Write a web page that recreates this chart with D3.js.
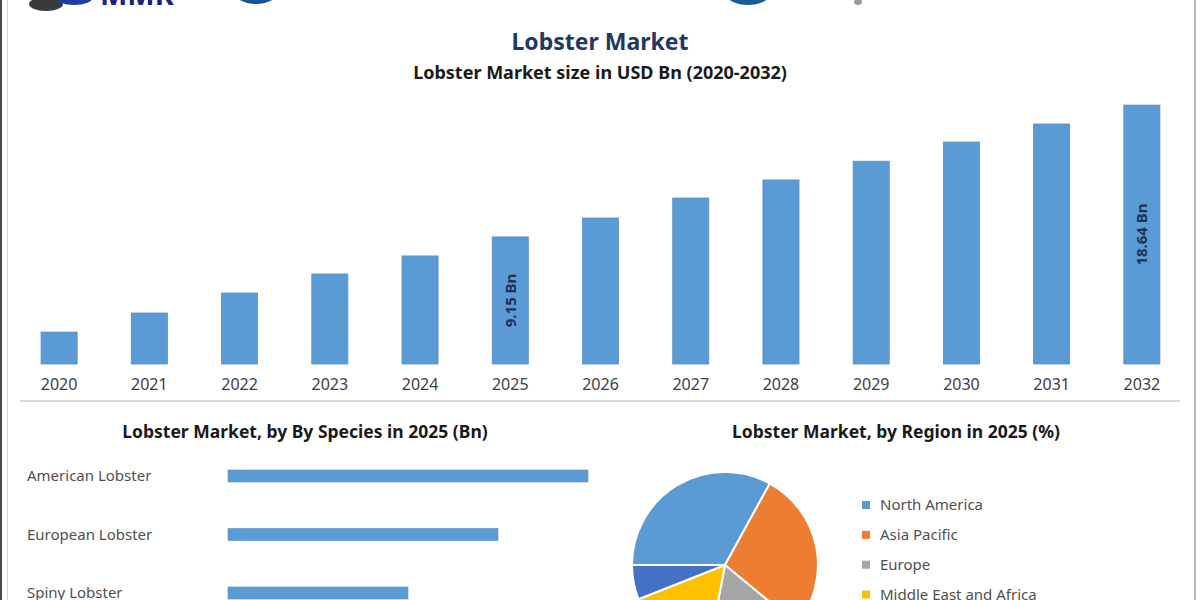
<!DOCTYPE html>
<html>
<head>
<meta charset="utf-8">
<script src="https://cdn.jsdelivr.net/npm/d3@7"></script>
<style>
  html, body { margin: 0; padding: 0; background: #ffffff; }
  svg { display: block; }
  text { font-family: "Noto Sans", "Open Sans", sans-serif; }
</style>
</head>
<body>
<svg id="chart" width="1200" height="600"></svg>
<script>
// ---------- data ----------
const years = ["2020","2021","2022","2023","2024","2025","2026","2027","2028","2029","2030","2031","2032"];
const marketSize = [2.30, 3.67, 5.11, 6.48, 7.78, 9.15, 10.51, 11.95, 13.25, 14.60, 15.98, 17.28, 18.64];
const labelledYears = ["2025", "2032"];

const species = ["American Lobster", "European Lobster", "Spiny Lobster"];
const speciesValues = [3.6, 2.7, 1.8];

const regions = ["North America", "Asia Pacific", "Europe", "Middle East and Africa", "South America"];
const regionShares = [33, 28, 17, 16, 6];
const regionColors = ["#5b9bd5", "#ed7d31", "#a5a5a5", "#ffc000", "#4472c4"];

const mainTitle = "Lobster Market";
const subTitle = "Lobster Market size in USD Bn (2020-2032)";
const speciesTitle = "Lobster Market, by By Species in 2025 (Bn)";
const regionTitle = "Lobster Market, by Region in 2025 (%)";

// ---------- drawing ----------
const svg = d3.select("#chart");

svg.append("rect").attr("width", 1200).attr("height", 600).attr("fill", "#ffffff");

// partial logos cut at top edge
const logo = svg.append("g");
logo.append("ellipse").attr("cx", 46).attr("cy", 4).attr("rx", 17).attr("ry", 7).attr("fill", "#3a3a3a");
logo.append("ellipse").attr("cx", 74).attr("cy", -3).attr("rx", 19).attr("ry", 8).attr("fill", "#1f3c9e");
logo.append("text").attr("x", 100).attr("y", 5).attr("font-family", "Liberation Serif, serif")
  .attr("font-weight", "bold").attr("font-size", 29).attr("fill", "#1a237e").text("MMR");
logo.append("ellipse").attr("cx", 256).attr("cy", -6).attr("rx", 20).attr("ry", 10).attr("fill", "#1d4f99");
logo.append("ellipse").attr("cx", 748).attr("cy", -5).attr("rx", 21).attr("ry", 10).attr("fill", "#1b5a98");
logo.append("ellipse").attr("cx", 858).attr("cy", 2).attr("rx", 4).attr("ry", 3).attr("fill", "#9a9a9a");

// frame lines
svg.append("rect").attr("x", 0).attr("y", 0).attr("width", 2).attr("height", 600).attr("fill", "#4a4a4a");
svg.append("line").attr("x1", 7.5).attr("x2", 7.5).attr("y1", 0).attr("y2", 600).attr("stroke", "#d4d4d4").attr("stroke-width", 1);
svg.append("line").attr("x1", 1195).attr("x2", 1195).attr("y1", 0).attr("y2", 600).attr("stroke", "#a9bdb6").attr("stroke-width", 2);

// titles
svg.append("text").attr("x", 600).attr("y", 50).attr("text-anchor", "middle")
  .attr("font-size", 23).attr("font-weight", "bold").attr("fill", "#1f3864").text(mainTitle);
svg.append("text").attr("x", 600).attr("y", 79).attr("text-anchor", "middle")
  .attr("font-size", 18).attr("font-weight", "bold").attr("fill", "#1a1a1a").text(subTitle);

// ---------- top bar chart ----------
const x = d3.scaleBand().domain(years).range([14, 1187]).paddingInner(0.6).paddingOuter(0.3);
const y = d3.scaleLinear().domain([0, 20]).range([364, 364 - 13.89 * 20]);

svg.append("g").selectAll("rect").data(years).join("rect")
  .attr("x", d => x(d))
  .attr("y", (d, i) => y(marketSize[i]))
  .attr("width", x.bandwidth())
  .attr("height", (d, i) => y(0) - y(marketSize[i]))
  .attr("fill", "#5b9bd5")
  .attr("stroke", "#5a8fc0")
  .attr("stroke-width", 0.8);

// value labels inside bars
svg.append("g").selectAll("text").data(labelledYears).join("text")
  .attr("transform", d => {
    const v = marketSize[years.indexOf(d)];
    const cx = x(d) + x.bandwidth() / 2;
    const cy = (y(v) + y(0)) / 2;
    return `translate(${cx},${cy}) rotate(-90)`;
  })
  .attr("text-anchor", "middle").attr("dy", "0.35em")
  .attr("font-size", 15).attr("font-weight", "bold").attr("fill", "#1f3058")
  .text(d => marketSize[years.indexOf(d)].toFixed(2) + " Bn");

const xAxis = svg.append("g").attr("transform", `translate(0,${y(0)})`)
  .call(d3.axisBottom(x).tickSizeInner(0).tickSizeOuter(0).tickPadding(15));
xAxis.select(".domain").remove();
xAxis.selectAll("text").attr("font-size", 16).attr("fill", "#404040")
  .attr("font-family", "'Noto Sans', sans-serif");

// separator
svg.append("line").attr("x1", 20).attr("x2", 1180).attr("y1", 401).attr("y2", 401)
  .attr("stroke", "#d9d9d9").attr("stroke-width", 2);

// ---------- species bar chart ----------
svg.append("text").attr("x", 305).attr("y", 438).attr("text-anchor", "middle")
  .attr("font-size", 17.5).attr("font-weight", "bold").attr("fill", "#1a1a1a").text(speciesTitle);

const sx = d3.scaleLinear().domain([0, 4]).range([228, 628]);
const sy = d3.scalePoint().domain(species).range([476, 593]);

svg.append("g").selectAll("rect").data(species).join("rect")
  .attr("x", sx(0))
  .attr("y", d => sy(d) - 6)
  .attr("width", (d, i) => sx(speciesValues[i]) - sx(0))
  .attr("height", 12)
  .attr("fill", "#5b9bd5")
  .attr("stroke", "#5a8fc0").attr("stroke-width", 0.6);

svg.append("g").selectAll("text").data(species).join("text")
  .attr("x", 27).attr("y", d => sy(d)).attr("dy", "0.35em")
  .attr("font-size", 15).attr("fill", "#505050").text(d => d);

// ---------- region pie ----------
svg.append("text").attr("x", 896).attr("y", 438).attr("text-anchor", "middle")
  .attr("font-size", 17.5).attr("font-weight", "bold").attr("fill", "#1a1a1a").text(regionTitle);

const pie = d3.pie().sort(null).value(d => d)
  .startAngle(-Math.PI / 2).endAngle(1.5 * Math.PI);
const arc = d3.arc().innerRadius(0).outerRadius(93);

svg.append("g").attr("transform", "translate(725,565)")
  .selectAll("path").data(pie(regionShares)).join("path")
  .attr("d", arc)
  .attr("fill", (d, i) => regionColors[i])
  .attr("stroke", "#ffffff").attr("stroke-width", 2);

const ly = d3.scalePoint().domain(regions).range([505, 624.4]);
const legend = svg.append("g").selectAll("g").data(regions).join("g")
  .attr("transform", d => `translate(862,${ly(d)})`);
legend.append("rect").attr("x", 0).attr("y", -4).attr("width", 8).attr("height", 8)
  .attr("fill", (d, i) => regionColors[i]);
legend.append("text").attr("x", 18).attr("y", 0).attr("dy", "0.35em")
  .attr("font-size", 15).attr("fill", "#505050").text(d => d);
</script>
</body>
</html>
